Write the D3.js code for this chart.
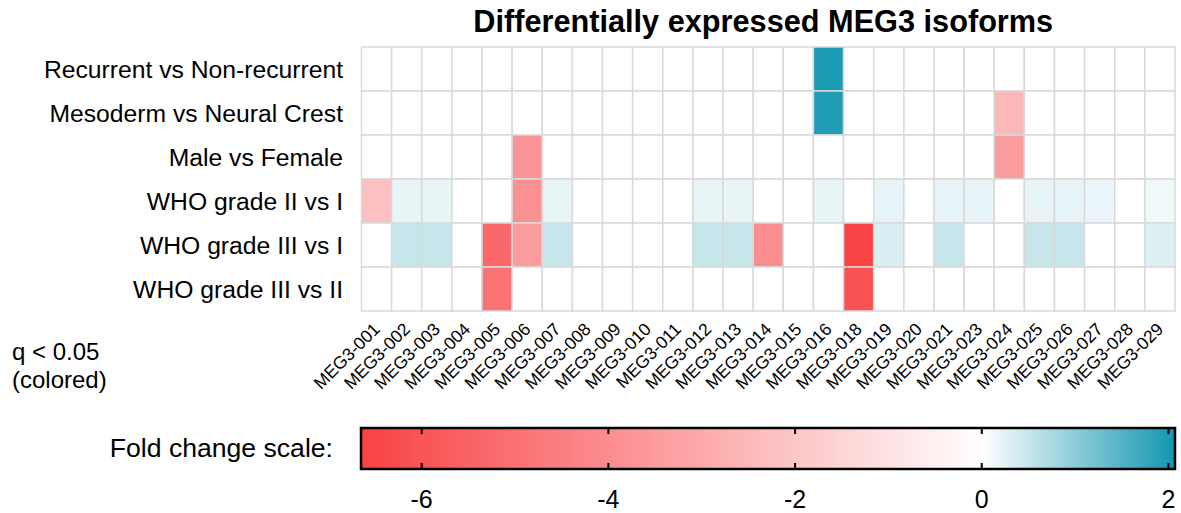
<!DOCTYPE html>
<html>
<head>
<meta charset="utf-8">
<script src="https://cdn.jsdelivr.net/npm/d3@7"></script>
<style>
  html, body { margin: 0; padding: 0; background: #fff; }
  svg { display: block; font-family: "Liberation Sans", Arial, Helvetica, sans-serif; }
</style>
</head>
<body>
<svg id="chart" width="1181" height="513"></svg>
<script>
// Isoforms (columns) and comparisons (rows)
const isoforms = ["MEG3-001","MEG3-002","MEG3-003","MEG3-004","MEG3-005","MEG3-006","MEG3-007",
  "MEG3-008","MEG3-009","MEG3-010","MEG3-011","MEG3-012","MEG3-013","MEG3-014","MEG3-015",
  "MEG3-016","MEG3-018","MEG3-019","MEG3-020","MEG3-021","MEG3-023","MEG3-024","MEG3-025",
  "MEG3-026","MEG3-027","MEG3-028","MEG3-029"];

const comparisons = ["Recurrent vs Non-recurrent","Mesoderm vs Neural Crest","Male vs Female",
  "WHO grade II vs I","WHO grade III vs I","WHO grade III vs II"];

// Fold change per isoform; null = not significant (q >= 0.05)
const _ = null;
const recurrentVsNon   = [_,_,_,_,_,_,_,_,_,_,_,_,_,_,_,2.0,_,_,_,_,_,_,_,_,_,_,_];
const mesodermVsNC     = [_,_,_,_,_,_,_,_,_,_,_,_,_,_,_,1.95,_,_,_,_,_,-2.5,_,_,_,_,_];
const maleVsFemale     = [_,_,_,_,_,-3.75,_,_,_,_,_,_,_,_,_,_,_,_,_,_,_,-3.45,_,_,_,_,_];
const gradeIIvsI       = [-2.2,0.2,0.2,_,_,-3.9,0.2,_,_,_,_,0.2,0.2,_,_,0.2,_,0.22,_,0.22,0.22,_,0.22,0.22,0.19,_,0.13];
const gradeIIIvsI      = [_,0.5,0.5,_,-5.3,-3.5,0.5,_,_,_,_,0.5,0.5,-4.0,_,_,-6.6,0.34,_,0.5,_,_,0.5,0.5,_,_,0.3];
const gradeIIIvsII     = [_,_,_,_,-4.9,_,_,_,_,_,_,_,_,_,_,_,-6.1,_,_,_,_,_,_,_,_,_,_];
const foldChanges = [recurrentVsNon, mesodermVsNC, maleVsFemale, gradeIIvsI, gradeIIIvsI, gradeIIIvsII];

// Colour bar extent and ticks
const scaleMin = -6.65, scaleMax = 2.07;
const scaleTicks = [-6, -4, -2, 0, 2];

const svg = d3.select("#chart");

const grid = { left: 361.5, right: 1175, top: 47, bottom: 311 };
const x = d3.scaleBand().domain(isoforms).range([grid.left, grid.right]).padding(0);
const y = d3.scaleBand().domain(comparisons).range([grid.top, grid.bottom]).padding(0);

const color = d3.scaleLinear()
  .domain([scaleMin, 0, scaleMax])
  .range(["#f84244", "#ffffff", "#1396b0"])
  .interpolate(d3.interpolateRgb)
  .clamp(true);

// Title
svg.append("text")
  .attr("x", (grid.left + grid.right) / 2 - 5)
  .attr("y", 31.5)
  .attr("text-anchor", "middle")
  .attr("font-size", 30.7)
  .attr("font-weight", "bold")
  .attr("fill", "#000")
  .text("Differentially expressed MEG3 isoforms");

// Heatmap cells
const cells = [];
comparisons.forEach((c, i) => {
  isoforms.forEach((iso, j) => cells.push({ row: c, col: iso, value: foldChanges[i][j] }));
});

svg.append("g").selectAll("rect")
  .data(cells)
  .join("rect")
  .attr("x", d => x(d.col))
  .attr("y", d => y(d.row))
  .attr("width", x.bandwidth())
  .attr("height", y.bandwidth())
  .attr("fill", d => d.value === null ? "#ffffff" : color(d.value))
  .attr("stroke", "#d9d9d9")
  .attr("stroke-width", 1.5);

// Row labels
svg.append("g").selectAll("text")
  .data(comparisons)
  .join("text")
  .attr("x", 343)
  .attr("y", d => y(d) + y.bandwidth() / 2)
  .attr("dy", "0.35em")
  .attr("text-anchor", "end")
  .attr("font-size", 24.7)
  .attr("fill", "#000")
  .text(d => d);

// Column labels, rotated
svg.append("g").selectAll("text")
  .data(isoforms)
  .join("text")
  .attr("transform", d => `translate(${x(d) + x.bandwidth() / 2},${326}) rotate(-45)`)
  .attr("dy", "0.35em")
  .attr("text-anchor", "end")
  .attr("font-size", 17.5)
  .attr("fill", "#000")
  .text(d => d);

// Significance note
const note = svg.append("text").attr("font-size", 24).attr("fill", "#000");
note.append("tspan").attr("x", 12).attr("y", 360).text("q < 0.05");
note.append("tspan").attr("x", 12).attr("y", 388).text("(colored)");

// Colour bar
const bar = { left: 361, right: 1175, top: 428, bottom: 469 };
const cx = d3.scaleLinear().domain([scaleMin, scaleMax]).range([bar.left, bar.right]);

const defs = svg.append("defs");
const grad = defs.append("linearGradient").attr("id", "fcGradient")
  .attr("x1", "0%").attr("x2", "100%").attr("y1", "0%").attr("y2", "0%");
const zeroOffset = (0 - scaleMin) / (scaleMax - scaleMin);
const stopOffsets = d3.range(0, 1.0001, 0.05).concat([zeroOffset]).sort((a, b) => a - b);
grad.selectAll("stop")
  .data(stopOffsets)
  .join("stop")
  .attr("offset", t => `${t * 100}%`)
  .attr("stop-color", t => color(scaleMin + t * (scaleMax - scaleMin)));

svg.append("rect")
  .attr("x", bar.left)
  .attr("y", bar.top)
  .attr("width", bar.right - bar.left)
  .attr("height", bar.bottom - bar.top)
  .attr("fill", "url(#fcGradient)")
  .attr("stroke", "#000")
  .attr("stroke-width", 2.5);

const tickG = svg.append("g");
tickG.selectAll("line.top")
  .data(scaleTicks)
  .join("line")
  .attr("class", "top")
  .attr("x1", d => cx(d)).attr("x2", d => cx(d))
  .attr("y1", bar.top).attr("y2", bar.top + 6)
  .attr("stroke", "#000").attr("stroke-width", 2);
tickG.selectAll("line.bottom")
  .data(scaleTicks)
  .join("line")
  .attr("class", "bottom")
  .attr("x1", d => cx(d)).attr("x2", d => cx(d))
  .attr("y1", bar.bottom - 6).attr("y2", bar.bottom)
  .attr("stroke", "#000").attr("stroke-width", 2);
tickG.selectAll("text")
  .data(scaleTicks)
  .join("text")
  .attr("x", d => cx(d))
  .attr("y", 508)
  .attr("text-anchor", "middle")
  .attr("font-size", 25)
  .attr("fill", "#000")
  .text(d => d3.format("d")(d).replace("−", "-"));

svg.append("text")
  .attr("x", 333)
  .attr("y", 457)
  .attr("text-anchor", "end")
  .attr("font-size", 26.6)
  .attr("fill", "#000")
  .text("Fold change scale:");
</script>
</body>
</html>
